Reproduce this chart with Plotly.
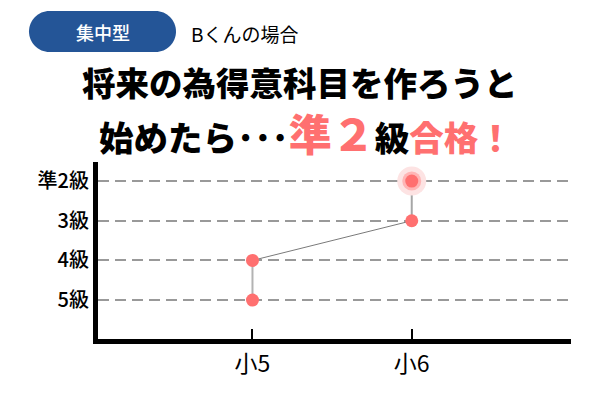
import plotly.graph_objects as go

# grade ladder (bottom to top) and school years on the x axis
grade_labels = ["5級", "4級", "3級", "準2級"]
year_labels = ["小5", "小6"]

# Bくん's results: year and grade reached
years = ["小5", "小5", "小6", "小6"]
grades = ["5級", "4級", "3級", "準2級"]

FONT = "Noto Sans CJK JP"
SALMON = "#FF7070"

# the page body adds an 8px offset; margins are set so the plot lands where it should
OFF = 8
L, R, T, B = 90, 37, 154, 69
PW, PH = 600 - L - R, 400 - T - B


def px_x(px):
    return (px - OFF - L) / PW


def px_y(py):
    return (400 - B - (py - OFF)) / PH


xs = [year_labels.index(y) + 1 for y in years]
ys = [grade_labels.index(g) for g in grades]

fig = go.Figure()

# connecting segments, each with its own grey
seg_styles = [("#b3b3b3", 2), ("#7a7a7a", 1), ("#a6a6a6", 2)]
for i, (col, w) in enumerate(seg_styles):
    fig.add_trace(go.Scatter(
        x=xs[i:i + 2], y=ys[i:i + 2], mode="lines",
        line=dict(color=col, width=w), hoverinfo="skip", showlegend=False
    ))

# glow around the final result
for size, col in [(29, "#FDE3E3"), (19, "#FFB5B5")]:
    fig.add_trace(go.Scatter(
        x=xs[-1:], y=ys[-1:], mode="markers",
        marker=dict(size=size, color=col), hoverinfo="skip", showlegend=False
    ))

fig.add_trace(go.Scatter(
    x=xs, y=ys, mode="markers",
    marker=dict(size=13, color=SALMON),
    text=[f"{y} {g}" for y, g in zip(years, grades)], hoverinfo="text",
    showlegend=False
))

fig.update_xaxes(
    range=[0.03, 3.0], tickvals=[1, 2], ticktext=year_labels,
    showgrid=False, zeroline=False,
    showline=True, linecolor="black", linewidth=5,
    ticks="inside", ticklen=10, tickwidth=2, tickcolor="black",
    tickfont=dict(family=FONT, size=23, color="black", weight=400),
    fixedrange=True
)
fig.update_yaxes(
    range=[-0.98, 3.48], tickvals=list(range(len(grade_labels))), ticktext=grade_labels,
    showgrid=True, gridcolor="#999999", gridwidth=2, griddash="11px,6px",
    zeroline=False, showline=True, linecolor="black", linewidth=5,
    ticks="", tickfont=dict(family=FONT, size=20, color="black", weight=500),
    fixedrange=True
)

# rounded badge behind "集中型"
x0, x1, y0, y1 = 29, 176, 11, 52
r = (y1 - y0) / 2
k = 0.5523 * r
pts = [
    ("M", [(x0 + r, y0)]),
    ("L", [(x1 - r, y0)]),
    ("C", [(x1 - r + k, y0), (x1, y0 + r - k), (x1, y0 + r)]),
    ("C", [(x1, y0 + r + k), (x1 - r + k, y1), (x1 - r, y1)]),
    ("L", [(x0 + r, y1)]),
    ("C", [(x0 + r - k, y1), (x0, y0 + r + k), (x0, y0 + r)]),
    ("C", [(x0, y0 + r - k), (x0 + r - k, y0), (x0 + r, y0)]),
]
path = " ".join(cmd + " " + " ".join(f"{px_x(a):.5f},{px_y(b):.5f}" for a, b in p) for cmd, p in pts) + " Z"
fig.add_shape(type="path", path=path, xref="paper", yref="paper",
              fillcolor="#245597", line=dict(width=0), layer="above")


def label(text, x, y, size, color="black", xanchor="center", weight=400):
    fig.add_annotation(text=text, x=px_x(x), y=px_y(y), xref="paper", yref="paper",
                       xanchor=xanchor, yanchor="middle", showarrow=False,
                       font=dict(family=FONT, size=size, color=color, weight=weight))


label("集中型", 102.5, 32, 18, "white", weight=500)
label("Bくんの場合", 189, 33, 19, xanchor="left")

# headline
label("将来の為得意科目を作ろうと", 300, 82, 33.5, weight=900)
label(("始めたら･･･<span style='color:%s;font-size:43px'>準２</span>級"
       "<span style='color:%s'>合格！</span>") % (SALMON, SALMON), 306, 132, 34.5, weight=900)

fig.update_layout(
    width=600, height=400,
    margin=dict(l=L, r=R, t=T, b=B),
    paper_bgcolor="white", plot_bgcolor="white",
    showlegend=False
)

fig.write_html("out.html")
